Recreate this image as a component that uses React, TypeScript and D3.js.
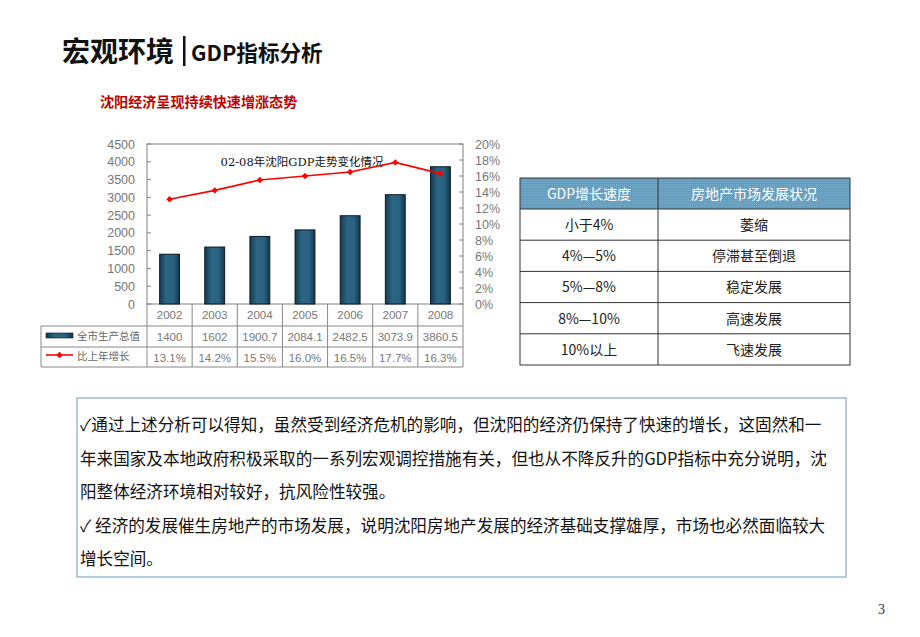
import React from "react";
import * as d3 from "d3";

const years = ["2002", "2003", "2004", "2005", "2006", "2007", "2008"];
const gdpValues = [1400, 1602, 1900.7, 2084.1, 2482.5, 3073.9, 3860.5];
const gdpLabels = ["1400", "1602", "1900.7", "2084.1", "2482.5", "3073.9", "3860.5"];
const growthValues = [13.1, 14.2, 15.5, 16.0, 16.5, 17.7, 16.3];
const leftTicks = [0, 500, 1000, 1500, 2000, 2500, 3000, 3500, 4000, 4500];
const rightTicks = [0, 2, 4, 6, 8, 10, 12, 14, 16, 18, 20];
const seriesNames = ["全市生产总值", "比上年增长"];
const tableHeader = ["GDP增长速度", "房地产市场发展状况"];
const tableSpeeds = ["小于4%", "4%—5%", "5%—8%", "8%—10%", "10%以上"];
const tableStatus = ["萎缩", "停滞甚至倒退", "稳定发展", "高速发展", "飞速发展"];
const paragraphLines = [
  "✓通过上述分析可以得知，虽然受到经济危机的影响，但沈阳的经济仍保持了快速的增长，这固然和一",
  "年来国家及本地政府积极采取的一系列宏观调控措施有关，但也从不降反升的GDP指标中充分说明，沈",
  "阳整体经济环境相对较好，抗风险性较强。",
  "✓ 经济的发展催生房地产的市场发展，说明沈阳房地产发展的经济基础支撑雄厚，市场也必然面临较大",
  "增长空间。",
];

const CJK = "'Noto Sans CJK SC', 'Noto Sans', sans-serif";
const ARIAL = "'Liberation Sans', Arial, sans-serif";

export default function App() {
  const W = 920, H = 637;
  const plotL = 147, plotR = 463, plotT = 144, plotB = 304;
  const x = d3.scaleBand<string>().domain(years).range([plotL, plotR]).paddingInner(0.56).paddingOuter(0.28);
  const step = (plotR - plotL) / years.length;
  const yL = d3.scaleLinear().domain([0, 4500]).range([plotB, plotT]);
  const yR = d3.scaleLinear().domain([0, 20]).range([plotB, plotT]);
  const line = d3.line<number>().x((_, i) => x(years[i])! + x.bandwidth() / 2).y((d) => yR(d));

  const row1T = plotB, row2T = 326, row3T = 347, tabB = 367, tabL = 41;

  const tX = 520, tR = 850, tMid = 658, tT = 178, hdrH = 31, rowH = 31.2;

  const diamond = (cx: number, cy: number, r = 3.2) => `M${cx},${cy - r}L${cx + r},${cy}L${cx},${cy + r}L${cx - r},${cy}Z`;

  return (
    <svg width={W} height={H} style={{ position: "absolute", left: 0, top: 0, background: "#fff" }}>
      <defs>
        <linearGradient id="barGrad" x1="0" x2="1" y1="0" y2="0">
          <stop offset="0" stopColor="#163a50" />
          <stop offset="0.35" stopColor="#2c6684" />
          <stop offset="0.7" stopColor="#2a6282" />
          <stop offset="1" stopColor="#153548" />
        </linearGradient>
        <pattern id="hdrPat" width="2" height="2" patternUnits="userSpaceOnUse">
          <rect width="2" height="2" fill="#5f9ec0" />
          <rect width="1" height="1" fill="#7ab0cf" />
        </pattern>
      </defs>
      <rect width={W} height={H} fill="#fff" />

      {/* Header */}
      <text x={62} y={62} fontFamily={CJK} fontWeight={700} fontSize={28} fill="#111">宏观环境</text>
      <rect x={183} y={36} width={2.5} height={30} fill="#111" />
      <text x={191} y={61} fontFamily={CJK} fontWeight={700} fontSize={21.6} fill="#111">GDP指标分析</text>
      <text x={100} y={107} fontFamily={CJK} fontWeight={700} fontSize={14.1} fill="#c00000">沈阳经济呈现持续快速增涨态势</text>

      {/* Plot area */}
      <rect x={plotL} y={plotT} width={plotR - plotL} height={plotB - plotT} fill="#fff" stroke="#808080" strokeWidth={1} />
      {leftTicks.map((t) => (
        <g key={"l" + t}>
          <line x1={plotL} x2={plotL + 4} y1={yL(t)} y2={yL(t)} stroke="#808080" />
          <text x={135} y={yL(t) + 4.5} textAnchor="end" fontFamily={ARIAL} fontSize={12.5} fill="#777">{t}</text>
        </g>
      ))}
      {rightTicks.map((t) => (
        <g key={"r" + t}>
          <line x1={plotR - 4} x2={plotR} y1={yR(t)} y2={yR(t)} stroke="#808080" />
          <text x={475} y={yR(t) + 4.5} textAnchor="start" fontFamily={ARIAL} fontSize={12.5} fill="#777">{t}%</text>
        </g>
      ))}
      {years.map((yr, i) => (
        <rect key={"b" + yr} x={x(yr)} y={yL(gdpValues[i])} width={x.bandwidth()} height={plotB - yL(gdpValues[i])} fill="url(#barGrad)" stroke="#0a1a24" strokeWidth={1} />
      ))}
      <text x={302} y={166} textAnchor="middle" fontFamily={"'DejaVu Serif', 'Liberation Serif', 'Noto Sans CJK SC', serif"} fontSize={11.5} fill="#111">02-08年沈阳GDP走势变化情况</text>
      <path d={line(growthValues) || ""} fill="none" stroke="#ff0000" strokeWidth={1.6} />
      {growthValues.map((v, i) => (
        <path key={"m" + i} d={diamond(x(years[i])! + x.bandwidth() / 2, yR(v))} fill="#ff0000" />
      ))}

      {/* Data table */}
      <g stroke="#888" strokeWidth={1} fill="none">
        <line x1={tabL} x2={plotR} y1={row2T} y2={row2T} />
        <line x1={tabL} x2={plotR} y1={row3T} y2={row3T} />
        <line x1={tabL} x2={plotR} y1={tabB} y2={tabB} />
        <line x1={tabL} x2={tabL} y1={row2T} y2={tabB} />
        {d3.range(years.length + 1).map((i) => (
          <line key={"v" + i} x1={plotL + i * step} x2={plotL + i * step} y1={row1T} y2={tabB} />
        ))}
      </g>
      {years.map((yr, i) => (
        <g key={"t" + yr} fontFamily={ARIAL} fontSize={11.5} fill="#777" textAnchor="middle">
          <text x={plotL + (i + 0.5) * step} y={row1T + 15}>{yr}</text>
          <text x={plotL + (i + 0.5) * step} y={row2T + 15}>{gdpLabels[i]}</text>
          <text x={plotL + (i + 0.5) * step} y={row3T + 15}>{growthValues[i].toFixed(1)}%</text>
        </g>
      ))}
      <rect x={46} y={333} width={27} height={5} fill="url(#barGrad)" stroke="#0a1a24" strokeWidth={0.6} />
      <text x={77} y={340} fontFamily={CJK} fontSize={10.5} fill="#666">{seriesNames[0]}</text>
      <line x1={46} x2={73} y1={355} y2={355} stroke="#ff0000" strokeWidth={1.6} />
      <path d={diamond(59.5, 355)} fill="#ff0000" />
      <text x={77} y={360} fontFamily={CJK} fontSize={10.5} fill="#666">{seriesNames[1]}</text>

      {/* Right table */}
      <rect x={tX} y={tT} width={tR - tX} height={hdrH} fill="url(#hdrPat)" />
      <g stroke="#333" strokeWidth={1} fill="none">
        <rect x={tX} y={tT} width={tR - tX} height={hdrH + rowH * 5} />
        <line x1={tMid} x2={tMid} y1={tT} y2={tT + hdrH + rowH * 5} />
        {d3.range(5).map((i) => (
          <line key={"h" + i} x1={tX} x2={tR} y1={tT + hdrH + i * rowH} y2={tT + hdrH + i * rowH} />
        ))}
      </g>
      <text x={(tX + tMid) / 2} y={tT + 21} textAnchor="middle" fontFamily={CJK} fontSize={14} fill="#fff">{tableHeader[0]}</text>
      <text x={(tMid + tR) / 2} y={tT + 21} textAnchor="middle" fontFamily={CJK} fontSize={14} fill="#fff">{tableHeader[1]}</text>
      {tableSpeeds.map((s, i) => (
        <g key={"rt" + i} fontFamily={CJK} fontSize={14} fill="#222" textAnchor="middle">
          <text x={(tX + tMid) / 2} y={tT + hdrH + i * rowH + 21}>{s}</text>
          <text x={(tMid + tR) / 2} y={tT + hdrH + i * rowH + 21}>{tableStatus[i]}</text>
        </g>
      ))}

      {/* Text box */}
      <rect x={77} y={398} width={769} height={179} fill="#fff" stroke="#9dbccc" strokeWidth={1.5} />
      {paragraphLines.map((l, i) => (
        <text key={"p" + i} x={80} y={431 + i * 33.5} fontFamily={CJK} fontSize={16.6} fill="#111">{l}</text>
      ))}

      <text x={878} y={614} fontFamily={"'Liberation Serif', serif"} fontSize={14} fill="#333">3</text>
    </svg>
  );
}
